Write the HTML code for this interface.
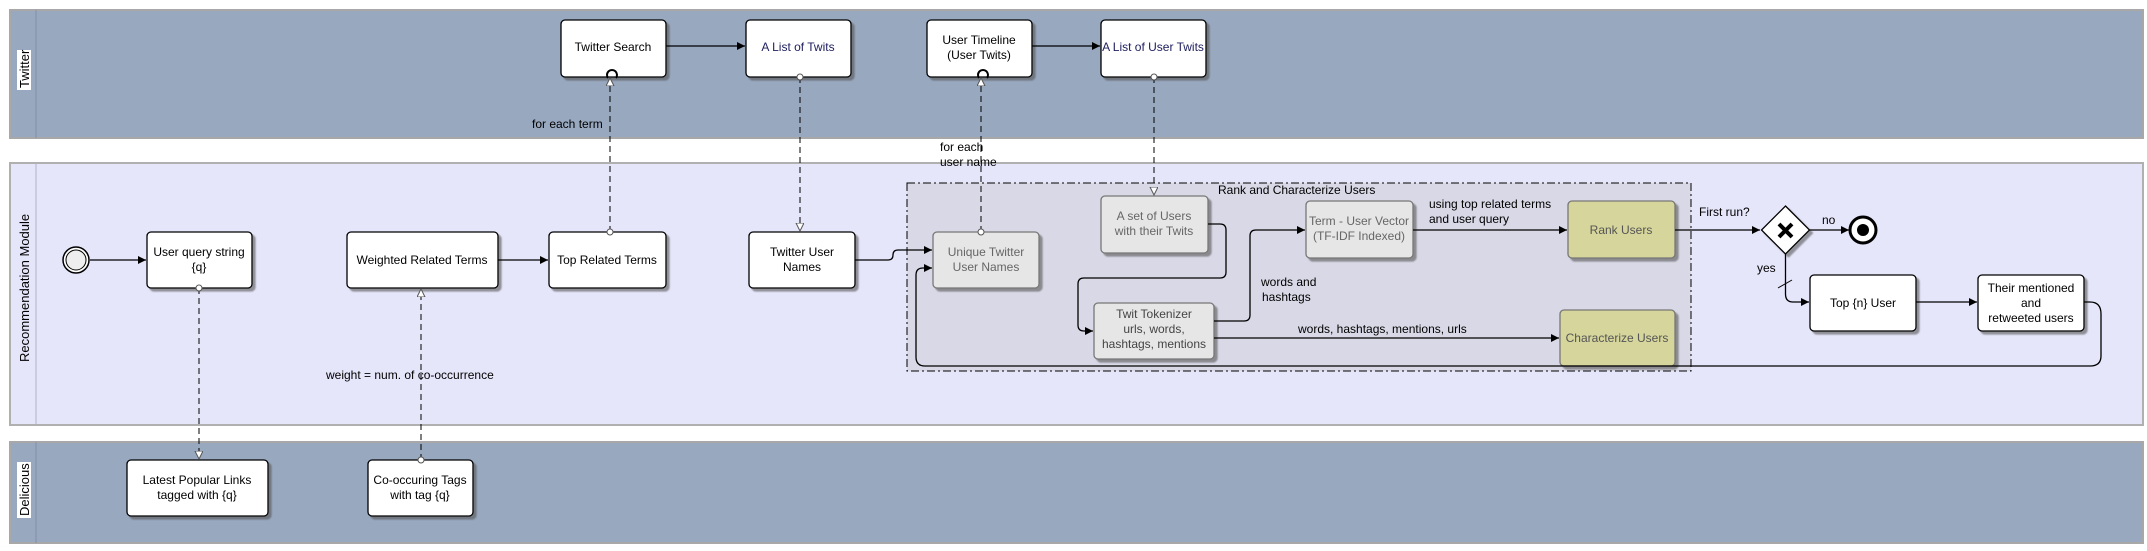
<!DOCTYPE html>
<html><head><meta charset="utf-8"><style>
html,body{margin:0;padding:0;background:#fff;}
svg{display:block;font-family:"Liberation Sans",sans-serif;font-size:12px;}
</style></head><body>
<svg width="2147" height="551" viewBox="0 0 2147 551" xmlns="http://www.w3.org/2000/svg">
<defs>
<marker id="a" markerWidth="10" markerHeight="10" refX="8" refY="4" orient="auto" markerUnits="userSpaceOnUse"><path d="M0,0 L8,4 L0,8 z" fill="#000"/></marker>
<marker id="o" markerWidth="10" markerHeight="10" refX="8" refY="4" orient="auto" markerUnits="userSpaceOnUse"><path d="M0,0 L8,4 L0,8 z" fill="#fff" stroke="#555"/></marker>
<marker id="c" markerWidth="8" markerHeight="8" refX="4" refY="4" markerUnits="userSpaceOnUse"><circle cx="4" cy="4" r="3" fill="#fff" stroke="#555"/></marker>
<filter id="s" x="-10%" y="-10%" width="130%" height="130%"><feDropShadow dx="3" dy="3" stdDeviation="0.8" flood-color="#555" flood-opacity="0.6"/></filter>
</defs>
<!-- lanes -->
<rect x="10" y="10" width="2133" height="128" fill="#98a8bf" stroke="#a8a8a8" stroke-width="2"/>
<line x1="36" y1="10" x2="36" y2="138" stroke="#8090a8"/>
<rect x="10" y="163" width="2133" height="262" fill="#e6e6fb" stroke="#b0b0b0" stroke-width="2"/>
<line x1="36" y1="163" x2="36" y2="425" stroke="#b0b0c8"/>
<rect x="10" y="442" width="2133" height="101" fill="#98a8bf" stroke="#a8a8a8" stroke-width="2"/>
<line x1="36" y1="442" x2="36" y2="543" stroke="#8090a8"/>
<g font-size="13">
<rect x="17" y="50" width="14" height="40" fill="#fff"/>
<text transform="translate(29,88) rotate(-90)">Twitter</text>
<text transform="translate(29,362) rotate(-90)">Recommendation Module</text>
<rect x="17" y="462" width="14" height="56" fill="#fff"/>
<text transform="translate(29,516) rotate(-90)">Delicious</text>
</g>
<!-- group -->
<rect x="907" y="183" width="784" height="188" fill="#d8d8e6" stroke="#000" stroke-dasharray="8,3,2,3"/>
<text x="1218" y="194">Rank and Characterize Users</text>
<!-- boxes -->
<g filter="url(#s)" stroke="#000" stroke-width="1.3">
<rect x="561" y="20" width="105" height="57" rx="4" fill="#fff"/>
<rect x="746" y="20" width="105" height="57" rx="4" fill="#fff"/>
<rect x="927" y="20" width="105" height="57" rx="4" fill="#fff"/>
<rect x="1101" y="20" width="105" height="57" rx="4" fill="#fff"/>
<rect x="147" y="232" width="105" height="56" rx="4" fill="#fff"/>
<rect x="347" y="232" width="151" height="56" rx="4" fill="#fff"/>
<rect x="549" y="232" width="117" height="56" rx="4" fill="#fff"/>
<rect x="749" y="232" width="106" height="56" rx="4" fill="#fff"/>
<rect x="933" y="232" width="106" height="56" rx="4" fill="#e6e6e6" stroke="#777"/>
<rect x="1101" y="196" width="107" height="57" rx="4" fill="#e6e6e6" stroke="#777"/>
<rect x="1306" y="201" width="107" height="57" rx="4" fill="#e6e6e6" stroke="#777"/>
<rect x="1568" y="201" width="107" height="57" rx="4" fill="#d5d59c" stroke="#777"/>
<rect x="1094" y="303" width="120" height="56" rx="4" fill="#e6e6e6" stroke="#777"/>
<rect x="1560" y="310" width="115" height="56" rx="4" fill="#d5d59c" stroke="#777"/>
<rect x="1810" y="275" width="106" height="56" rx="4" fill="#fff"/>
<rect x="1978" y="275" width="106" height="56" rx="4" fill="#fff"/>
<rect x="127" y="460" width="141" height="56" rx="4" fill="#fff"/>
<rect x="368" y="460" width="105" height="56" rx="4" fill="#fff"/>
<path d="M1785.5,206 L1809.5,230 L1785.5,254 L1761.5,230 z" fill="#fff"/>
</g>
<!-- gateway X -->
<path d="M1779,224 L1792,237 M1792,224 L1779,237" stroke="#000" stroke-width="4"/>
<!-- start / end -->
<circle cx="76" cy="260" r="13" fill="#fff" stroke="#000" stroke-width="1.5"/>
<circle cx="76" cy="260" r="10" fill="#eee" stroke="#000"/>
<circle cx="1863" cy="230" r="13" fill="#fff" stroke="#000" stroke-width="3"/>
<circle cx="1863" cy="230" r="6" fill="#000"/>
<!-- text -->
<g text-anchor="middle" fill="#000">
<text x="613" y="51">Twitter Search</text>
<text x="798" y="51" fill="#202060">A List of  Twits</text>
<text x="979" y="44">User Timeline</text><text x="979" y="59">(User Twits)</text>
<text x="1153" y="51" fill="#202060">A List of User Twits</text>
<text x="199" y="256">User query string</text><text x="199" y="271">{q}</text>
<text x="422" y="264">Weighted Related Terms</text>
<text x="607" y="264">Top Related Terms</text>
<text x="802" y="256">Twitter User</text><text x="802" y="271">Names</text>
<text x="986" y="256" fill="#666">Unique Twitter</text><text x="986" y="271" fill="#666">User Names</text>
<text x="1154" y="220" fill="#666">A set of Users</text><text x="1154" y="235" fill="#666">with their Twits</text>
<text x="1359" y="225" fill="#666">Term - User Vector</text><text x="1359" y="240" fill="#666">(TF-IDF Indexed)</text>
<text x="1621" y="234" fill="#555">Rank Users</text>
<text x="1154" y="318" fill="#444">Twit Tokenizer</text><text x="1154" y="333" fill="#444">urls, words,</text><text x="1154" y="348" fill="#444">hashtags, mentions</text>
<text x="1617" y="342" fill="#555">Characterize Users</text>
<text x="1863" y="307">Top {n} User</text>
<text x="2031" y="292">Their mentioned</text><text x="2031" y="307">and</text><text x="2031" y="322">retweeted users</text>
<text x="197" y="484">Latest Popular Links</text><text x="197" y="499">tagged with {q}</text>
<text x="420" y="484">Co-occuring Tags</text><text x="420" y="499">with tag {q}</text>
</g>
<g fill="#000">
<text x="532" y="128">for each term</text>
<text x="940" y="151">for each</text><text x="940" y="166">user name</text>
<text x="326" y="379">weight = num. of co-occurrence</text>
<text x="1429" y="208">using top related terms</text><text x="1429" y="223">and user query</text>
<text x="1261" y="286">words and</text><text x="1262" y="301">hashtags</text>
<text x="1298" y="333">words, hashtags, mentions, urls</text>
<text x="1699" y="216">First run?</text>
<text x="1822" y="224">no</text>
<text x="1757" y="272">yes</text>
</g>
<!-- solid flows -->
<g stroke="#000" stroke-width="1.3" fill="none" marker-end="url(#a)">
<line x1="666" y1="46" x2="745" y2="46"/>
<line x1="1032" y1="46" x2="1100" y2="46"/>
<line x1="90" y1="260" x2="146" y2="260"/>
<line x1="498" y1="260" x2="548" y2="260"/>
<path d="M855,260 L888,260 Q893,260 893,255 Q893,250 898,250 L932,250"/>
<path d="M1208,224 L1220,224 Q1226,224 1226,230 L1226,272 Q1226,278 1220,278 L1084,278 Q1078,278 1078,284 L1078,325 Q1078,331 1084,331 L1093,331"/>
<path d="M1214,321 L1244,321 Q1250,321 1250,315 L1250,236 Q1250,230 1256,230 L1305,230"/>
<line x1="1214" y1="338" x2="1559" y2="338"/>
<line x1="1413" y1="230" x2="1567" y2="230"/>
<line x1="1675" y1="230" x2="1760" y2="230"/>
<line x1="1809" y1="230" x2="1849" y2="230"/>
<path d="M1785.5,254 L1785.5,294 Q1785.5,302 1793,302 L1809,302"/>
<line x1="1916" y1="302" x2="1977" y2="302"/>
<path d="M2084,302 L2090,302 Q2101,302 2101,314 L2101,356 Q2101,366 2090,366 L925,366 Q916,366 916,357 L916,275 Q916,268 923,268 L932,268"/>
</g>
<line x1="1778" y1="288" x2="1792" y2="280" stroke="#000"/>
<!-- dashed associations -->
<g stroke="#000" stroke-width="1" stroke-dasharray="6,4" fill="none">
<line x1="199" y1="288" x2="199" y2="459" marker-start="url(#c)" marker-end="url(#o)"/>
<line x1="421" y1="460" x2="421" y2="289" marker-start="url(#c)" marker-end="url(#o)"/>
<line x1="610" y1="232" x2="610" y2="78" marker-start="url(#c)" marker-end="url(#o)"/>
<line x1="800" y1="77" x2="800" y2="231" marker-start="url(#c)" marker-end="url(#o)"/>
<line x1="981" y1="232" x2="981" y2="78" marker-start="url(#c)" marker-end="url(#o)"/>
<line x1="1154" y1="77" x2="1154" y2="195" marker-start="url(#c)" marker-end="url(#o)"/>
</g>
<!-- loop markers -->
<path d="M608,78 A5,5 0 1 1 616,78" stroke="#000" stroke-width="2" fill="none"/>
<path d="M979,78 A5,5 0 1 1 987,78" stroke="#000" stroke-width="2" fill="none"/>
</svg>
</body></html>
